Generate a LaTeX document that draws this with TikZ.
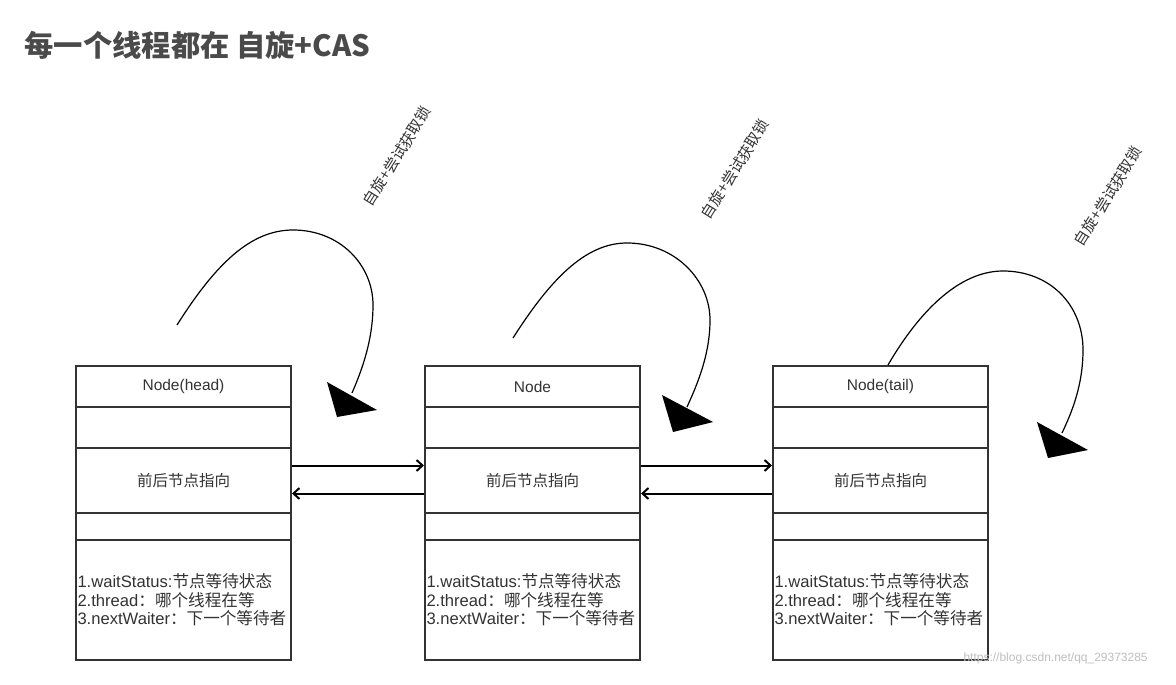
\documentclass[tikz,border=0pt]{standalone}
\usepackage{fontspec}
\setmainfont{Liberation Sans}
\newfontfamily\cjk{Noto Sans CJK SC}
\usetikzlibrary{arrows.meta}
\definecolor{boxc}{HTML}{333333}
\definecolor{txt}{HTML}{333333}
\definecolor{titlec}{HTML}{4A4A4A}
\begin{document}
\begin{tikzpicture}[x=1pt,y=-1pt,
  cell/.style={draw=boxc,line width=2pt,minimum width=215pt,inner sep=0pt,anchor=north west,
    font=\fontsize{15.5}{18.5}\selectfont,text=txt},
  conn/.style={line width=2pt,-{Straight Barb[length=6pt,width=11pt,line width=2pt]}},
  loop/.style={line width=1.2pt},
  head/.style={fill=black},
  lbl/.style={rotate=58,text=txt,font=\cjk\fontsize{15}{15}\selectfont}]
\fill[white] (0,0) rectangle (1176,685);
\useasboundingbox (0,0) rectangle (1176,685);
\node[anchor=west,text=titlec,font=\cjk\bfseries\fontsize{29.3}{29.3}\selectfont] (title) at (21,45) {每一个线程都在 自旋+CAS};
\foreach \n/\x/\t in {1/75/Node(head),2/424/Node,3/772/Node(tail)}{
  \node[cell,minimum height=41pt] (h\n) at (\x,365) {\t};
  \node[cell,minimum height=41pt] (a\n) at (\x,406) {};
  \node[cell,minimum height=65pt] (p\n) at (\x,447) {\cjk 前后节点指向};
  \node[cell,minimum height=27pt] (b\n) at (\x,512) {};
  \node[cell,minimum height=120pt,text width=212pt,align=left,inner xsep=1.5pt,
    font=\fontsize{16.6}{18.5}\selectfont] (l\n) at (\x,539)
    {1.waitStatus:{\cjk 节点等待状态}\\2.thread{\cjk ：哪个线程在等}\\3.nextWaiter{\cjk ：下一个等待者}};
}
\draw[conn] ([yshift=15pt]p1.east) -- ([yshift=15pt]p2.west);
\draw[conn] ([yshift=-13pt]p2.west) -- ([yshift=-13pt]p1.east);
\draw[conn] ([yshift=15pt]p2.east) -- ([yshift=15pt]p3.west);
\draw[conn] ([yshift=-13pt]p3.west) -- ([yshift=-13pt]p2.east);
% self loops
\coordinate (s1) at (177,325);
\coordinate (e1) at (352,393);
\draw[loop] (s1) .. controls (215,265) and (250,230) .. (293,230)
  .. controls (340,230) and (373,265) .. (373,305)
  .. controls (373,340) and (362,370) .. (e1);
\fill[head] (327,382) -- (337,417) -- (377,410) -- cycle;
\coordinate (s2) at (513,338);
\coordinate (e2) at (687,407);
\draw[loop] (s2) .. controls (550,280) and (585,243) .. (627,243)
  .. controls (675,243) and (710,280) .. (710,320)
  .. controls (710,355) and (697,385) .. (e2);
\fill[head] (662,395) -- (673,432) -- (713,422) -- cycle;
\coordinate (s3) at (888,365);
\coordinate (e3) at (1062,433);
\draw[loop] (s3) .. controls (920,310) and (960,271) .. (1003,271)
  .. controls (1050,271) and (1083,305) .. (1083,350)
  .. controls (1083,385) and (1072,412) .. (e3);
\fill[head] (1037,422) -- (1048,458) -- (1088,450) -- cycle;
\node[lbl] (lab1) at (397,156) {自旋+尝试获取锁};
\node[lbl] (lab2) at (735,169) {自旋+尝试获取锁};
\node[lbl] (lab3) at (1108,196) {自旋+尝试获取锁};
\node[anchor=west,text=black!25,font=\fontsize{12}{12}\selectfont] (wm) at (960,658) {https://blog.csdn.net/qq\_29373285};
\end{tikzpicture}
\end{document}
